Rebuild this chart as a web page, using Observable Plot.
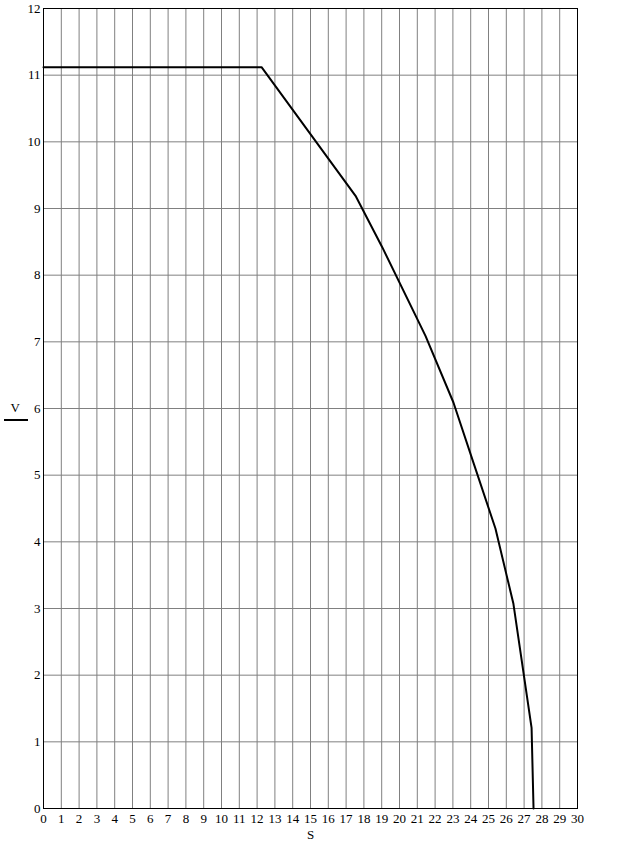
<!DOCTYPE html>
<html>
<head>
<meta charset="utf-8">
<script src="https://cdn.jsdelivr.net/npm/d3@7"></script>
<script src="https://cdn.jsdelivr.net/npm/@observablehq/plot@0.6"></script>
<style>
  html, body { margin: 0; padding: 0; background: #fff; }
  #chart svg { display: block; }
</style>
</head>
<body>
<div id="chart"></div>
<script>
const sValues = [0, 12.25, 17.53, 19.03, 21.46, 23.03, 24.2, 25.39, 26.4, 27.42, 27.53];
const vValues = [11.12, 11.12, 9.19, 8.42, 7.09, 6.09, 5.15, 4.2, 3.07, 1.21, 0];
const xTicks = d3.range(0, 31, 1);
const yTicks = d3.range(0, 13, 1);
const xLabel = "S";
const yLabel = "V";

const data = sValues.map((s, i) => ({ s, v: vValues[i] }));

const font = "'Liberation Serif', 'DejaVu Serif', serif";

const chart = Plot.plot({
  width: 624,
  height: 852,
  marginLeft: 43,
  marginRight: 47,
  marginTop: 8,
  marginBottom: 44,
  style: { fontFamily: font, fontSize: "13px", background: "#fff", color: "#000" },
  x: { domain: [0, 30], ticks: xTicks, tickSize: 0, tickPadding: 5, label: null },
  y: { domain: [0, 12], ticks: yTicks, tickSize: 0, tickPadding: 3, label: null },
  marks: [
    Plot.ruleX(xTicks, { stroke: "#808080", strokeWidth: 1 }),
    Plot.ruleY(yTicks, { stroke: "#808080", strokeWidth: 1 }),
    Plot.frame({ stroke: "#000", strokeWidth: 1 }),
    Plot.line(data, { x: "s", y: "v", stroke: "#000", strokeWidth: 2 }),
    Plot.text([xLabel], { frameAnchor: "bottom", dy: 30, text: d => d, fontSize: 13, fill: "#000" }),
    Plot.text([yLabel], { frameAnchor: "left", dx: -33, dy: -1, text: d => d, fontSize: 13, fill: "#000" })
  ]
});

document.getElementById("chart").appendChild(chart);

// underline under the V axis label (Mathcad-style)
d3.select(chart).append("line")
  .attr("x1", 4).attr("x2", 28)
  .attr("y1", 420).attr("y2", 420)
  .attr("stroke", "#000").attr("stroke-width", 2);
</script>
</body>
</html>
